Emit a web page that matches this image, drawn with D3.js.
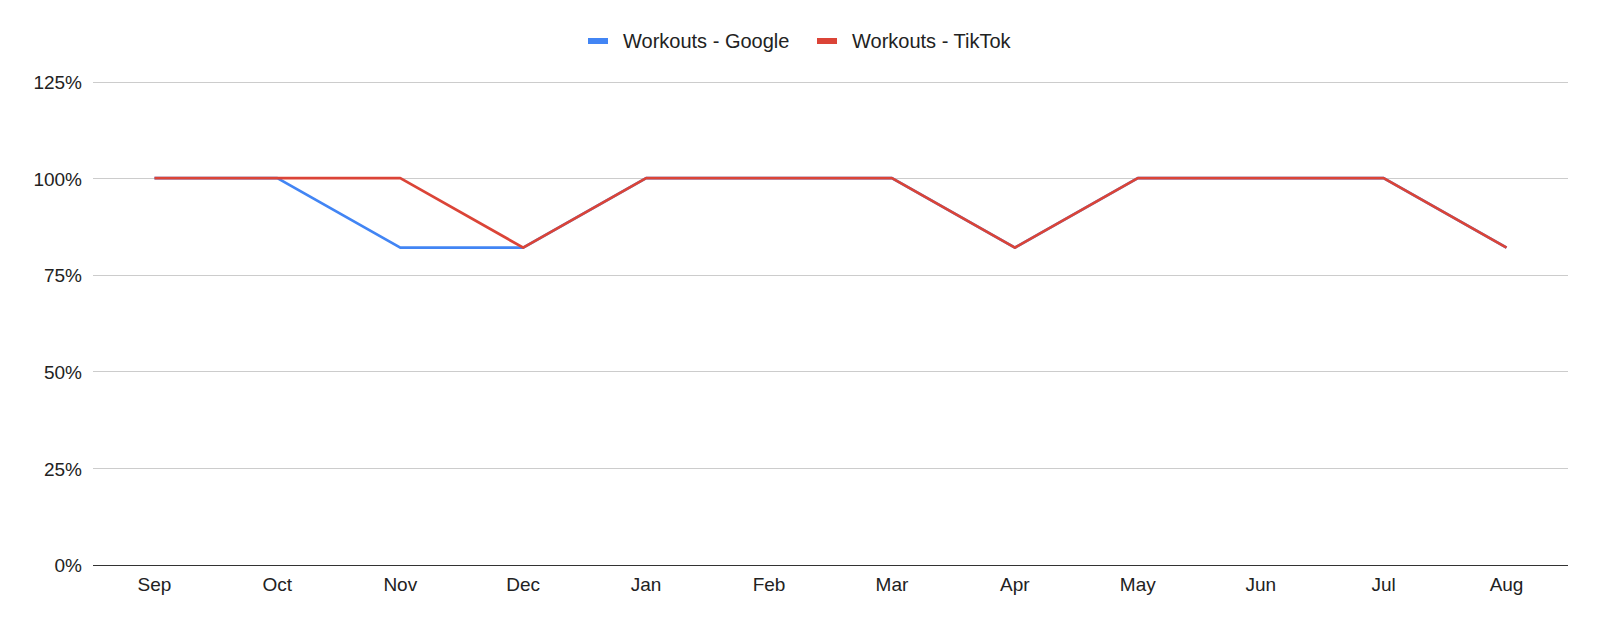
<html>
<head>
<script src="https://d3js.org/d3.v7.min.js"></script>
<style>
  body { margin: 0; background: #fff; }
  text { font-family: "Liberation Sans", Arial, sans-serif; }
</style>
</head>
<body>
<svg width="1600" height="626"></svg>
<script>
var months = ["Sep","Oct","Nov","Dec","Jan","Feb","Mar","Apr","May","Jun","Jul","Aug"];
var google = [1, 1, 0.82, 0.82, 1, 1, 1, 0.82, 1, 1, 1, 0.82];
var tiktok = [1, 1, 1, 0.82, 1, 1, 1, 0.82, 1, 1, 1, 0.82];
var yTicks = [0, 0.25, 0.5, 0.75, 1, 1.25];
var seriesNames = ["Workouts - Google", "Workouts - TikTok"];
var colors = ["#4285f4", "#db4437"];

var svg = d3.select("svg");
var marge = {left: 93, right: 1568, top: 81.5, bottom: 564.5};

var x = d3.scaleBand().domain(months).range([marge.left, marge.right]);
var y = d3.scaleLinear().domain([0, 1.25]).range([marge.bottom, marge.top]);

// gridlines
svg.append("g").selectAll("line")
  .data(yTicks.filter(function(d){ return d > 0; }))
  .enter().append("line")
  .attr("x1", marge.left).attr("x2", marge.right)
  .attr("y1", function(d){ return Math.round(y(d)) + 0.5; })
  .attr("y2", function(d){ return Math.round(y(d)) + 0.5; })
  .attr("stroke", "#cccccc").attr("stroke-width", 1);

// y labels
svg.append("g").selectAll("text")
  .data(yTicks).enter().append("text")
  .attr("x", 82).attr("y", function(d){ return y(d) + 1; })
  .attr("dy", "0.35em").attr("text-anchor", "end")
  .attr("font-size", 19).attr("fill", "#222")
  .text(function(d){ return d3.format(".0%")(d); });

// x labels
svg.append("g").selectAll("text")
  .data(months).enter().append("text")
  .attr("x", function(d){ return x(d) + x.bandwidth() / 2; })
  .attr("y", 591).attr("text-anchor", "middle")
  .attr("font-size", 19).attr("fill", "#222")
  .text(function(d){ return d; });

// baseline
svg.append("line")
  .attr("x1", marge.left).attr("x2", marge.right)
  .attr("y1", Math.round(y(0)) + 0.5).attr("y2", Math.round(y(0)) + 0.5)
  .attr("stroke", "#333").attr("stroke-width", 1);

var line = d3.line()
  .x(function(d, i){ return x(months[i]) + x.bandwidth() / 2; })
  .y(function(d){ return y(d); });

[google, tiktok].forEach(function(s, i){
  svg.append("path")
    .datum(s)
    .attr("d", line)
    .attr("fill", "none")
    .attr("stroke", colors[i])
    .attr("stroke-width", 2.8)
    .attr("stroke-linejoin", "round");
});

// legend
var legendX = [588, 817];
var lg = svg.append("g").selectAll("g")
  .data(seriesNames).enter().append("g");
lg.append("rect")
  .attr("x", function(d, i){ return legendX[i]; })
  .attr("y", 38).attr("width", 20).attr("height", 6)
  .attr("fill", function(d, i){ return colors[i]; });
lg.append("text")
  .attr("x", function(d, i){ return legendX[i] + 35; })
  .attr("y", 41).attr("dy", "0.35em")
  .attr("font-size", 20).attr("fill", "#222")
  .text(function(d){ return d; });
</script>
</body>
</html>
